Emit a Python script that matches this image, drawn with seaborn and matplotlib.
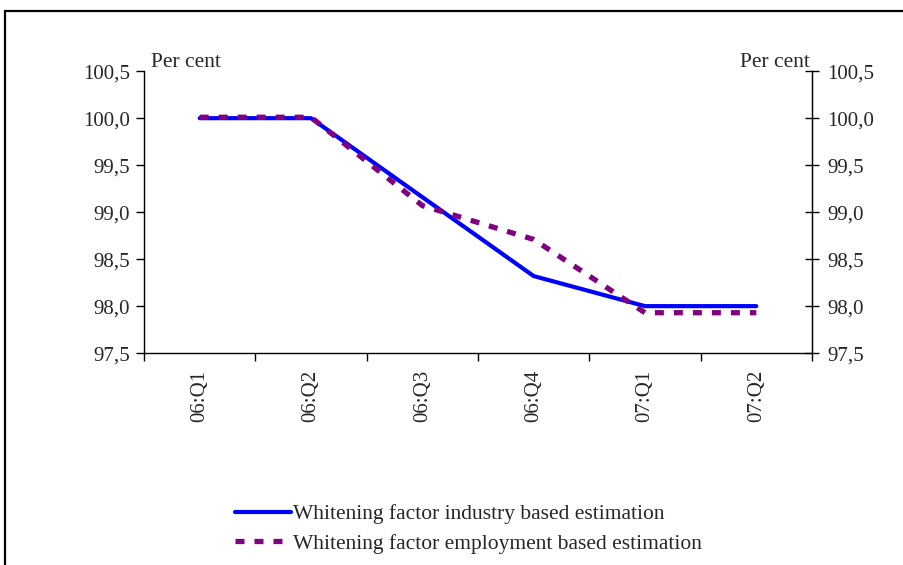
import pandas as pd
import numpy as np
import matplotlib
matplotlib.use('Agg')
import matplotlib.pyplot as plt
import seaborn as sns
from matplotlib.ticker import FuncFormatter, FixedLocator

# Data
quarters = ['06:Q1', '06:Q2', '06:Q3', '06:Q4', '07:Q1', '07:Q2']
industry = [100.0, 100.0, 99.16, 98.32, 98.0, 98.0]
employment = [100.01, 100.01, 99.07, 98.71, 97.93, 97.93]
y_ticks = [97.5, 98.0, 98.5, 99.0, 99.5, 100.0, 100.5]

lbl_ind = 'Whitening factor industry based estimation'
lbl_emp = 'Whitening factor employment based estimation'

df = pd.DataFrame({'pos': np.arange(len(quarters)), 'ind': industry, 'emp': employment})

sns.set_style('white')
plt.rcParams['font.family'] = ['Liberation Serif', 'DejaVu Serif']

fig = plt.figure(figsize=(9.04, 5.65), dpi=100)
ax = fig.add_axes([0.1593, 0.375, 0.7389, 0.499])

sns.lineplot(data=df, x='pos', y='ind', ax=ax, color='#0000FF', lw=3, label=lbl_ind)
sns.lineplot(data=df, x='pos', y='emp', ax=ax, color='#800080', lw=3.8, label=lbl_emp)
ax.lines[1].set_dashes([1.7, 1.9])
ax.lines[1].set_dash_capstyle('butt')

ax.set_xlim(-0.5, len(quarters) - 0.5)
ax.set_ylim(97.5, 100.5)
comma = FuncFormatter(lambda v, p: f'{v:.1f}'.replace('.', ','))

# x: ticks at the category boundaries, labels at the centres
ax.xaxis.set_major_locator(FixedLocator(np.arange(-0.5, len(quarters), 1.0)))
ax.xaxis.set_major_formatter(FuncFormatter(lambda v, p: ''))
ax.xaxis.set_minor_locator(FixedLocator(df['pos']))
ax.set_xticklabels(quarters, minor=True, rotation=90, fontsize=15)
ax.tick_params(axis='x', which='major', direction='out', length=6, width=1, color='black', bottom=True)
ax.tick_params(axis='x', which='minor', length=0, pad=12)

ax.set_yticks(y_ticks)
ax.yaxis.set_major_formatter(comma)
ax.tick_params(axis='y', direction='out', length=6, width=1, color='black', left=True, labelsize=15, pad=4)
ax.set_xlabel('')
ax.set_ylabel('')
for side in ['left', 'bottom', 'right']:
    ax.spines[side].set_color('black')
    ax.spines[side].set_linewidth(1)
ax.spines['top'].set_visible(False)

ax2 = ax.twinx()
ax2.set_ylim(97.5, 100.5)
ax2.set_yticks(y_ticks)
ax2.yaxis.set_major_formatter(comma)
ax2.tick_params(axis='y', direction='inout', length=10, width=1, color='black', right=True, labelsize=15, pad=6)
for s in ax2.spines.values():
    s.set_visible(False)
ax2.spines['right'].set_visible(True)
ax2.spines['right'].set_color('black')

ax.text(0.01, 0.998, 'Per cent', transform=ax.transAxes, ha='left', va='bottom', fontsize=15.5)
ax.text(0.997, 0.998, 'Per cent', transform=ax.transAxes, ha='right', va='bottom', fontsize=15.5)

handles, labels = ax.get_legend_handles_labels()
ax.get_legend().remove()
fig.legend(handles, labels, loc='upper left', bbox_to_anchor=(0.26, 0.108), frameon=False,
           fontsize=15.5, handlelength=2.6, handletextpad=0.1, labelspacing=0.45, borderaxespad=0, borderpad=0)

# outer frame around the chart area
fig.add_artist(plt.Rectangle((5 / 904, -0.05), 1.2, 1 - 11 / 565 + 0.05, transform=fig.transFigure,
                             fill=False, edgecolor='black', lw=1.6))

fig.savefig('out.png', dpi=100)
